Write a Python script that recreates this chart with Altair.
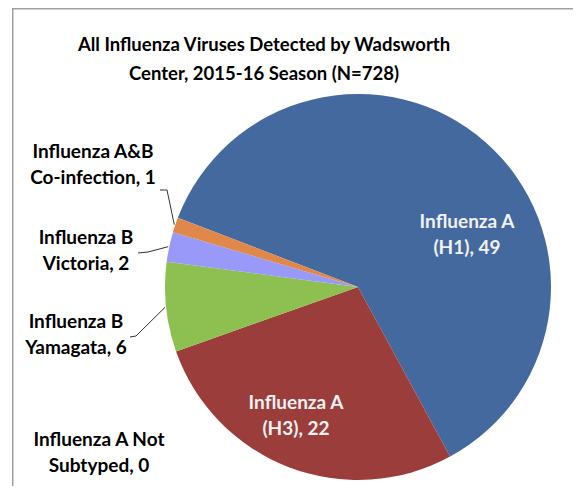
import math
import altair as alt
import pandas as pd

# ---- data ----
categories = ["Influenza A (H1)", "Influenza A (H3)", "Influenza B Yamagata",
              "Influenza B Victoria", "Influenza A&B Co-infection", "Influenza A Not Subtyped"]
values = [49, 22, 6, 2, 1, 0]
label_text = ["Influenza A\n(H1), 49", "Influenza A\n(H3), 22", "Influenza B\nYamagata, 6",
              "Influenza B\nVictoria, 2", "Influenza A&B\nCo-infection, 1", "Influenza A Not\nSubtyped, 0"]
colors = ["#44699E", "#9B3D3B", "#8DC050", "#9999FA", "#E0874A", "#4BACC6"]
title_lines = ["All Influenza Viruses Detected by Wadsworth", "Center,  2015-16 Season (N=728)"]

# ---- layout (pixels, plot coordinates) ----
W, H = 565, 478
CX, CY, R = 350, 279, 193
START = math.radians(-69)
FONT = "Lato"

pie_df = pd.DataFrame({"cat": categories, "value": values, "order": list(range(len(categories)))})

pie = alt.Chart(pie_df).mark_arc(stroke=None).encode(
    theta=alt.Theta("value:Q", stack=True,
                    scale=alt.Scale(range=[START, START + 2 * math.pi])),
    color=alt.Color("cat:N", scale=alt.Scale(domain=categories, range=colors), legend=None),
    order=alt.Order("order:Q"),
    x=alt.value(CX), y=alt.value(CY), radius=alt.value(R),
)

# label placement (layout only): x centre, y of first line, colour
label_pos = {
    0: (459, 214, "#F2F2F2"),
    1: (288, 395, "#F2F2F2"),
    2: (68, 314, "black"),
    3: (78, 230, "black"),
    4: (85, 144, "black"),
    5: (91, 432, "black"),
}
lab_df = pd.DataFrame({
    "text": label_text,
    "px": [label_pos[i][0] for i in range(6)],
    "py": [label_pos[i][1] for i in range(6)],
    "col": [label_pos[i][2] for i in range(6)],
})
labels = alt.Chart(lab_df).mark_text(
    font=FONT, fontWeight="bold", fontSize=19, lineBreak="\n", lineHeight=26,
    align="center", baseline="middle"
).encode(
    x=alt.X("px:Q", scale=None), y=alt.Y("py:Q", scale=None),
    text="text:N", color=alt.Color("col:N", scale=None),
)

# leader lines: end at the slice's mid angle on the rim
total = sum(values)
cum = 0
mids = []
for v in values:
    mids.append(START + 2 * math.pi * (cum + v / 2) / total)
    cum += v
elbows = {4: [(152, 182), (159, 182)], 3: [(130, 245), (140, 244)], 2: [(122, 329), (128, 328)]}
rows = []
for i, pts in elbows.items():
    a = mids[i]
    ex, ey = CX + (R + 1) * math.sin(a), CY - (R + 1) * math.cos(a)
    for k, (px, py) in enumerate(pts + [(ex, ey)]):
        rows.append({"g": i, "k": k, "px": px, "py": py})
leaders = alt.Chart(pd.DataFrame(rows)).mark_line(color="#333333", strokeWidth=1).encode(
    x=alt.X("px:Q", scale=None), y=alt.Y("py:Q", scale=None),
    detail="g:N", order="k:Q",
)

title_df = pd.DataFrame({"text": ["\n".join(title_lines)]})
title = alt.Chart(title_df).mark_text(
    font=FONT, fontWeight="bold", fontSize=18.5, lineBreak="\n", lineHeight=29,
    align="center", baseline="middle", color="black"
).encode(x=alt.value(256), y=alt.value(37), text="text:N")

frame_top = alt.Chart(pd.DataFrame({"a": [0]})).mark_rule(color="#A0A0A0", strokeWidth=1.5).encode(
    x=alt.value(4), x2=alt.value(W), y=alt.value(0.75))
frame_left = alt.Chart(pd.DataFrame({"a": [0]})).mark_rule(color="#A0A0A0", strokeWidth=1.5).encode(
    x=alt.value(4.75), y=alt.value(0), y2=alt.value(H))

chart = alt.layer(frame_top, frame_left, pie, leaders, labels, title).properties(
    width=W, height=H, padding=0, autosize=alt.AutoSizeParams(type="none")
).configure_view(stroke=None)

chart.save("out.html", embed_options={"renderer": "svg", "actions": False})
